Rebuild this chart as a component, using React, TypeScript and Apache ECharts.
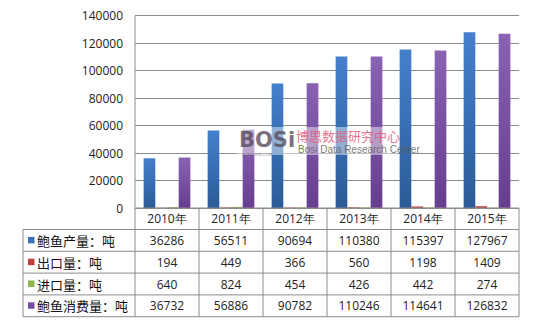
import React, { useEffect, useRef } from "react";
import * as echarts from "echarts";

const years = ["2010年", "2011年", "2012年", "2013年", "2014年", "2015年"];
const seriesNames = ["鲍鱼产量：吨", "出口量：吨", "进口量：吨", "鲍鱼消费量：吨"];
const production = [36286, 56511, 90694, 110380, 115397, 127967];
const exportQty = [194, 449, 366, 560, 1198, 1409];
const importQty = [640, 824, 454, 426, 442, 274];
const consumption = [36732, 56886, 90782, 110246, 114641, 126832];
const yTicks = { min: 0, max: 140000, interval: 20000 };

const seriesData = [production, exportQty, importQty, consumption];
const colorStops: [string, string][] = [
  ["#4580CC", "#2B5B98"],
  ["#D0605C", "#A8403D"],
  ["#A6C668", "#86A447"],
  ["#8A62B2", "#673E8E"],
];
const legendColors = ["#3D72B8", "#C0403D", "#8DB44E", "#7450A0"];

// plot and table geometry
const GRID_LEFT = 135;
const GRID_RIGHT_X = 519;
const GRID_TOP = 15.7;
const AXIS_Y = 208;
const ROW_H = 21.8;
const TABLE_LEFT = 23;
const LINE_COLOR = "#8C8C8C";

export default function App() {
  const ref = useRef<HTMLDivElement>(null);

  useEffect(() => {
    if (!ref.current) return;
    const chart = echarts.init(ref.current, undefined, { renderer: "svg" });

    const rowYs = [0, 1, 2, 3, 4, 5].map((i) => AXIS_Y + (i === 0 ? 0 : 21.5 + (i - 1) * ROW_H));
    const colW = (GRID_RIGHT_X - GRID_LEFT) / years.length;
    const lines: any[] = [];
    // horizontal table rules
    rowYs.forEach((y, i) => {
      lines.push({
        type: "line",
        shape: { x1: i === 0 ? GRID_LEFT : TABLE_LEFT, y1: y, x2: GRID_RIGHT_X, y2: y },
        style: { stroke: LINE_COLOR, lineWidth: 1 },
        z: 10,
      });
    });
    // vertical table rules
    for (let c = 0; c <= years.length; c++) {
      const x = GRID_LEFT + c * colW;
      lines.push({
        type: "line",
        shape: { x1: x, y1: c === 0 ? GRID_TOP : AXIS_Y, x2: x, y2: rowYs[5] },
        style: { stroke: LINE_COLOR, lineWidth: 1 },
        z: 10,
      });
    }
    lines.push({
      type: "line",
      shape: { x1: TABLE_LEFT, y1: rowYs[1], x2: TABLE_LEFT, y2: rowYs[5] },
      style: { stroke: LINE_COLOR, lineWidth: 1 },
      z: 10,
    });
    // outer frame
    lines.push({
      type: "rect",
      shape: { x: 1.5, y: 1.5, width: 532.5, height: 322.5 },
      style: { fill: "none", stroke: "#8A8A8A", lineWidth: 1.5 },
      z: 10,
    });

    // row headers with colour keys
    const rowLabels: any[] = [];
    seriesNames.forEach((name, i) => {
      const cy = (rowYs[i + 1] + rowYs[i + 2]) / 2;
      rowLabels.push({
        type: "rect",
        shape: { x: 28, y: cy - 3.5, width: 6.5, height: 6.5 },
        style: { fill: legendColors[i] },
        z: 11,
      });
      rowLabels.push({
        type: "text",
        x: 37,
        y: cy,
        style: {
          text: name,
          fontSize: 13,
          fontFamily: "Noto Sans CJK SC",
          fill: "#111",
          verticalAlign: "middle",
        },
        z: 11,
      });
    });

    // body cells of the data table
    const cells: any[] = [];
    seriesData.forEach((vals, r) => {
      const cy = (rowYs[r + 1] + rowYs[r + 2]) / 2;
      vals.forEach((v, c) => {
        cells.push({
          type: "text",
          x: GRID_LEFT + (c + 0.5) * colW,
          y: cy,
          style: {
            text: String(v),
            fontSize: 12,
            fontFamily: "Open Sans",
            fill: "#222",
            align: "center",
            verticalAlign: "middle",
          },
          z: 11,
        });
      });
    });

    // watermark with a soft white haze behind it
    const watermark: any[] = [
      {
        type: "rect",
        shape: { x: 236, y: 127, width: 162, height: 28, r: 4 },
        style: { fill: "rgba(255,255,255,0.45)" },
        z: 19,
      },
      {
        type: "text",
        x: 239,
        y: 129,
        style: {
          text: "BOSi",
          fontSize: 21,
          fontWeight: "bold",
          fontFamily: "DejaVu Sans",
          fill: "rgba(85,75,90,0.8)",
        },
        z: 20,
      },
      {
        type: "text",
        x: 242,
        y: 152,
        style: {
          text: "BOSIDATA.COM",
          fontSize: 4,
          lineHeight: 4,
          fontFamily: "DejaVu Sans",
          fill: "rgba(90,90,90,0.7)",
        },
        z: 20,
      },
      {
        type: "text",
        x: 296,
        y: 128,
        style: {
          text: "博思数据研究中心",
          fontSize: 13,
          lineHeight: 15,
          fontFamily: "Noto Sans CJK SC",
          fill: "rgba(225,90,120,0.85)",
        },
        z: 20,
      },
      {
        type: "text",
        x: 298,
        y: 144,
        style: {
          text: "Bosi Data Research Center",
          fontSize: 10,
          lineHeight: 10,
          fontFamily: "Liberation Sans Narrow, Liberation Sans",
          fill: "rgba(95,95,95,0.85)",
        },
        z: 20,
      },
    ];

    chart.setOption({
      animation: false,
      backgroundColor: "#fff",
      grid: {
        left: GRID_LEFT,
        top: GRID_TOP,
        width: GRID_RIGHT_X - GRID_LEFT,
        height: AXIS_Y - GRID_TOP,
        containLabel: false,
      },
      xAxis: {
        type: "category",
        data: years,
        axisLine: { show: false },
        axisTick: { show: false },
        axisLabel: {
          margin: 0,
          fontSize: 12,
          fontFamily: "Open Sans",
          color: "#222",
          lineHeight: 21.5,
          interval: 0,
        },
      },
      yAxis: {
        type: "value",
        min: yTicks.min,
        max: yTicks.max,
        interval: yTicks.interval,
        axisLine: { show: false },
        axisTick: { show: false },
        splitLine: { lineStyle: { color: LINE_COLOR, width: 1 } },
        axisLabel: {
          margin: 12,
          fontSize: 12,
          fontFamily: "Open Sans",
          color: "#222",
          formatter: (v: number) => String(v),
        },
      },
      series: seriesData.map((data, i) => ({
        name: seriesNames[i],
        type: "bar",
        data,
        barGap: "0%",
        barCategoryGap: "27%",
        itemStyle: {
          color: new echarts.graphic.LinearGradient(0, 0, 0, 1, [
            { offset: 0, color: colorStops[i][0] },
            { offset: 1, color: colorStops[i][1] },
          ]),
        },
      })),
      graphic: [...lines, ...rowLabels, ...cells, ...watermark],
    });

    return () => chart.dispose();
  }, []);

  return <div ref={ref} style={{ width: 536, height: 326, margin: -8 }} />;
}
